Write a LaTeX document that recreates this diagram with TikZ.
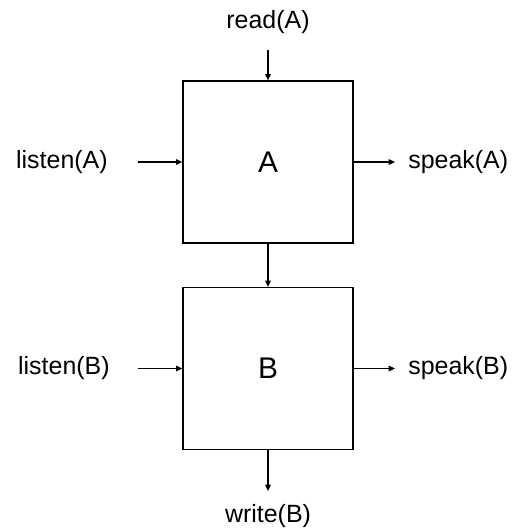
\documentclass[tikz,border=0pt]{standalone}
\usepackage{fontspec}
\setmainfont{Liberation Sans}
\usetikzlibrary{arrows.meta}

\begin{document}
\begin{tikzpicture}[x=0.02cm, y=-0.02cm,
    unit/.style={draw, line width=0.75pt, minimum width=3.4cm, minimum height=3.24cm, inner sep=0pt, font=\fontsize{17}{20}\selectfont},
    sig/.style={inner sep=0pt, font=\fontsize{14.2}{17}\selectfont},
    flow/.style={-{Triangle[length=3.6pt, width=3.2pt]}, line width=0.6pt}]
  \useasboundingbox (0,0) rectangle (515,531);

  % the two units
  \node[unit] (boxA) at (268, 162) {A};
  \node[unit] (boxB) at (268, 368.5) {B};

  % signals around them
  \node[sig] (readA) at (268, 22) {read(A)};
  \node[sig, anchor=east] (listenA) at (108, 162) {listen(A)};
  \node[sig, anchor=west] (speakA) at (408, 162) {speak(A)};
  \node[sig, anchor=east] (listenB) at (110, 368.5) {listen(B)};
  \node[sig, anchor=west] (speakB) at (408, 368.5) {speak(B)};
  \node[sig] (writeB) at (268, 516) {write(B)};

  \draw[flow, shorten <=0.32cm] (readA) -- (boxA);
  \draw[flow, shorten <=0.6cm] (listenA) -- (boxA);
  \draw[flow, shorten >=0.26cm] (boxA) -- (speakA);
  \draw[flow] (boxA) -- (boxB);
  \draw[flow, shorten <=0.56cm] (listenB) -- (boxB);
  \draw[flow, shorten >=0.26cm] (boxB) -- (speakB);
  \draw[flow, shorten >=0.26cm] (boxB) -- (writeB);
\end{tikzpicture}
\end{document}
